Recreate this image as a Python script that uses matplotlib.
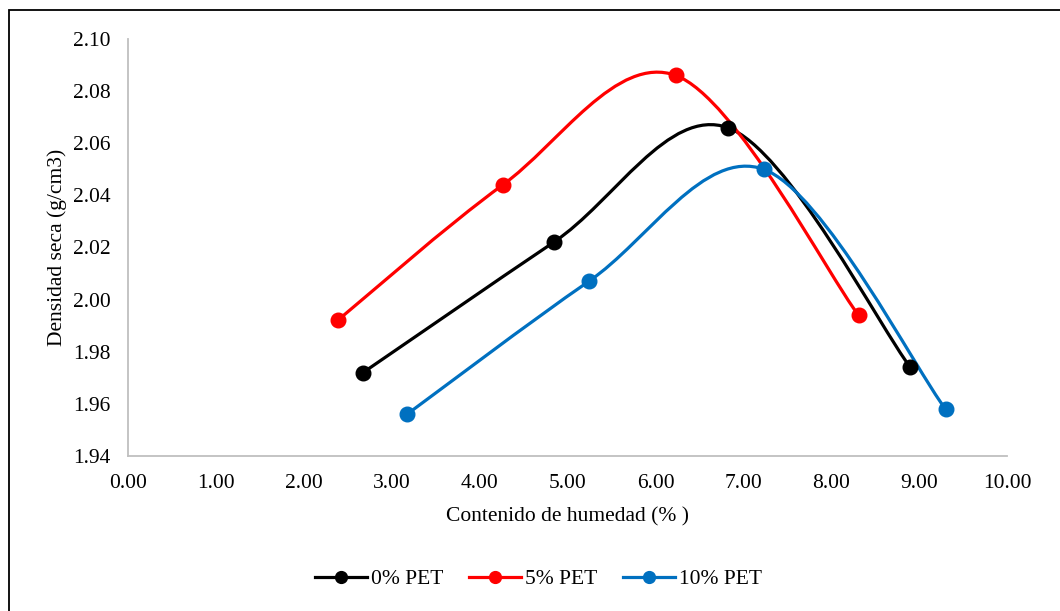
import numpy as np
import matplotlib.pyplot as plt
from matplotlib.path import Path
from matplotlib.patches import PathPatch, Rectangle
from matplotlib.lines import Line2D

plt.rcParams['font.family'] = ['Liberation Serif', 'DejaVu Serif']

# datos
humedad_0 = [2.67, 4.84, 6.82, 8.90]
densidad_0 = [1.972, 2.022, 2.066, 1.974]
humedad_5 = [2.38, 4.26, 6.23, 8.31]
densidad_5 = [1.992, 2.044, 2.086, 1.994]
humedad_10 = [3.17, 5.24, 7.23, 9.30]
densidad_10 = [1.956, 2.007, 2.050, 1.958]

series = [('0% PET', humedad_0, densidad_0, 'black'),
          ('5% PET', humedad_5, densidad_5, '#FF0000'),
          ('10% PET', humedad_10, densidad_10, '#0070C0')]


# curva suavizada tipo Excel (bezier cubica)
def smooth_path(x, y):
    p = np.column_stack([x, y]).astype(float)
    n = len(p)
    verts = [p[0]]
    codes = [Path.MOVETO]
    for i in range(n - 1):
        p_prev = p[i - 1] if i > 0 else p[i]
        p_next2 = p[i + 2] if i + 2 < n else p[i + 1]
        c1 = p[i] + (p[i + 1] - p_prev) / 6.0
        c2 = p[i + 1] - (p_next2 - p[i]) / 6.0
        verts += [c1, c2, p[i + 1]]
        codes += [Path.CURVE4] * 3
    return Path(verts, codes)


fig = plt.figure(figsize=(10.6, 6.11), dpi=100)
ax = fig.add_axes([0.1212, 0.2537, 0.8288, 0.6825])

for name, x, y, c in series:
    ax.add_patch(PathPatch(smooth_path(x, y), facecolor='none', edgecolor=c,
                           lw=2.3, capstyle='round', zorder=2))
    ax.plot(x, y, 'o', color=c, markersize=10.5, zorder=3)

ax.set_xlim(0, 10)
ax.set_ylim(1.94, 2.10)
ax.set_xticks(np.arange(0, 10.01, 1))
ax.set_yticks(np.arange(1.94, 2.101, 0.02))
ax.set_xticklabels(['%.2f' % v for v in np.arange(0, 10.01, 1)])
ax.set_yticklabels(['%.2f' % v for v in np.arange(1.94, 2.101, 0.02)])
ax.tick_params(length=0, labelsize=15.5, pad=13)
ax.tick_params(axis='y', pad=13)

for s in ['top', 'right']:
    ax.spines[s].set_visible(False)
for s in ['left', 'bottom']:
    ax.spines[s].set_color('#BFBFBF')
    ax.spines[s].set_linewidth(1.3)

ax.set_xlabel('Contenido de humedad (% )', fontsize=15.5, labelpad=10)
ax.set_ylabel('Densidad seca (g/cm3)', fontsize=15.5, labelpad=4)

handles = [Line2D([], [], color=c, lw=2.3, marker='o', markersize=8.5)
           for name, x, y, c in series]
fig.legend(handles, [s[0] for s in series], loc='center',
           bbox_to_anchor=(0.508, 0.052), ncol=3, frameon=False,
           fontsize=15.5, handlelength=2.4, handletextpad=0.2,
           columnspacing=1.2)

# borde del grafico
fig.add_artist(Rectangle((8.5 / 1060, -0.05), 1.2, 1.05 - 9.5 / 611,
                         transform=fig.transFigure, fill=False,
                         edgecolor='black', lw=1.3))

fig.savefig('out.png', dpi=100)
